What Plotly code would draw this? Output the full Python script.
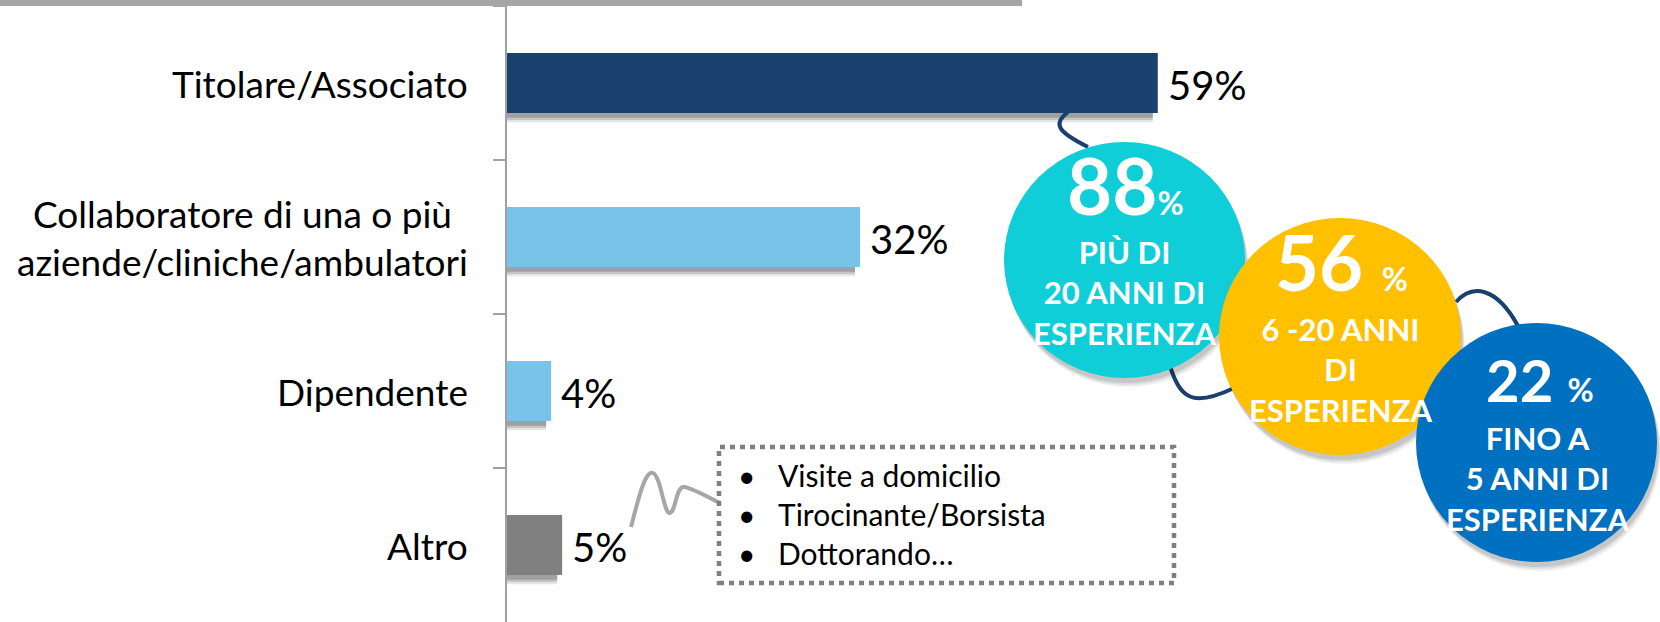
import plotly.graph_objects as go

# ---------------- data ----------------
categories = ["Titolare/Associato",
              "Collaboratore di una o più<br>aziende/cliniche/ambulatori",
              "Dipendente",
              "Altro"]
values = [59, 32, 4, 5]
bar_colors = ["#1A406E", "#79C2E8", "#79C2E8", "#808080"]
value_labels = ["59%", "32%", "4%", "5%"]

bubble_values = ["88", "56", "22"]
bubble_texts = ["PIÙ DI<br>20 ANNI DI<br>ESPERIENZA",
                "6 -20 ANNI<br>DI<br>ESPERIENZA",
                "FINO A<br>5 ANNI DI<br>ESPERIENZA"]
bubble_colors = ["#0FCED8", "#FFC000", "#0070C0"]

altro_items = ["Visite a domicilio", "Tirocinante/Borsista", "Dottorando…"]

# ---------------- layout helpers (pixel -> paper) ----------------
FW, FH = 1660, 622
L, T, R, B = 507, 6, 0, 0
W, H = FW - L - R, FH - T - B


def px(x):
    return (x - L) / W


def py(y):
    return 1 - (y - T) / H


def P(x, y):
    return f"{px(x):.5f},{py(y):.5f}"


FONT = "Lato, 'Open Sans', sans-serif"
BAR_W = 0.39

fig = go.Figure()

# bar shadows (soft, layered)
for off, op in [(0.06, 0.10), (0.045, 0.14), (0.03, 0.18)]:
    fig.add_trace(go.Bar(
        y=categories, x=[v - 0.45 for v in values], orientation="h",
        width=BAR_W, offset=-BAR_W / 2 + off,
        marker=dict(color=f"rgba(0,0,0,{op})", line=dict(width=0)),
        hoverinfo="skip", showlegend=False))

fig.add_trace(go.Bar(
    y=categories, x=values, orientation="h",
    width=BAR_W, offset=-BAR_W / 2,
    marker=dict(color=bar_colors, line=dict(width=0)),
    showlegend=False))

annotations = []
# category labels
for c in categories:
    annotations.append(dict(
        x=px(470), xref="paper", y=c, yref="y", xanchor="right", yanchor="middle",
        text=c, showarrow=False, align="center",
        font=dict(family=FONT, size=37, color="#000000")))
# value labels
for c, v, t in zip(categories, values, value_labels):
    annotations.append(dict(
        x=v, xref="x", y=c, yref="y", xanchor="left", yanchor="middle",
        xshift=8, yshift=-2, text=t, showarrow=False,
        font=dict(family=FONT, size=40, color="#000000")))

shapes = []
# top grey band
shapes.append(dict(type="rect", xref="paper", yref="paper",
                   x0=px(0), x1=px(1022), y0=py(0), y1=py(6),
                   fillcolor="#A6A6A6", line=dict(width=0), layer="above"))

# connectors (navy)
navy = "#1A406E"
c1 = f"M{P(1068,112)} C{P(1052,124)} {P(1058,132)} {P(1088,147)}"
c2 = f"M{P(1170,366)} C{P(1180,398)} {P(1192,408)} {P(1234,388)}"
c3 = f"M{P(1456,302)} C{P(1472,284)} {P(1496,286)} {P(1518,326)}"
for c in (c1, c2, c3):
    shapes.append(dict(type="path", xref="paper", yref="paper", path=c,
                       line=dict(color=navy, width=4)))

# grey squiggle to the box
sq = (f"M{P(631,527)} C{P(638,500)} {P(645,470)} {P(653,473)} "
      f"S{P(664,515)} {P(670,513)} S{P(676,486)} {P(684,487)} "
      f"S{P(706,496)} {P(720,503)}")
shapes.append(dict(type="path", xref="paper", yref="paper", path=sq,
                   line=dict(color="#A6A6A6", width=4)))

# dotted box
shapes.append(dict(type="rect", xref="paper", yref="paper",
                   x0=px(719), x1=px(1174), y0=py(583), y1=py(447),
                   line=dict(color="#7F7F7F", width=4.5, dash="5px,5px"),
                   fillcolor="rgba(0,0,0,0)"))

# bubbles with shadows
bubbles = [(1004, 142, 1245, 378), (1219, 218, 1461, 455), (1416, 323, 1657, 562)]
for (x0, y0, x1, y1), col in zip(bubbles, bubble_colors):
    for d, op in [(9, 0.06), (7, 0.08), (5, 0.10)]:
        shapes.append(dict(type="circle", xref="paper", yref="paper",
                           x0=px(x0 + d * 0.4), x1=px(x1 + d * 0.4),
                           y0=py(y1 + d), y1=py(y0 + d),
                           fillcolor=f"rgba(0,0,0,{op})", line=dict(width=0)))
    shapes.append(dict(type="circle", xref="paper", yref="paper",
                       x0=px(x0), x1=px(x1), y0=py(y1), y1=py(y0),
                       fillcolor=col, line=dict(width=0)))

# bubble texts
num_pos = [(1125, 185, 78, ""), (1341, 261, 76, " "), (1540, 380, 58, " ")]
txt_pos = [(1124, 292), (1340, 369), (1537, 478)]
for val, (nx, ny, ns, sp), txt, (tx, ty) in zip(bubble_values, num_pos, bubble_texts, txt_pos):
    annotations.append(dict(
        x=px(nx), y=py(ny), xref="paper", yref="paper",
        xanchor="center", yanchor="middle", showarrow=False,
        text=f"<b>{val}{sp}<span style='font-size:32px'>%</span></b>",
        font=dict(family=FONT, size=ns, color="#FFFFFF")))
    annotations.append(dict(
        x=px(tx), y=py(ty), xref="paper", yref="paper",
        xanchor="center", yanchor="middle", showarrow=False, align="center",
        text=f"<b>{txt}</b>",
        font=dict(family=FONT, size=31, color="#FFFFFF")))

# box contents
annotations.append(dict(
    x=px(746), y=py(514), xref="paper", yref="paper",
    xanchor="center", yanchor="middle", showarrow=False, align="center",
    text="<br>".join(["•"] * len(altro_items)),
    font=dict(family=FONT, size=30, color="#000000")))
annotations.append(dict(
    x=px(776), y=py(514), xref="paper", yref="paper",
    xanchor="left", yanchor="middle", showarrow=False, align="left",
    text="<br>".join(altro_items),
    font=dict(family=FONT, size=30, color="#000000")))

fig.update_layout(
    width=FW, height=FH,
    margin=dict(l=L, r=R, t=T, b=B, pad=0),
    plot_bgcolor="#FFFFFF", paper_bgcolor="#FFFFFF",
    barmode="overlay", showlegend=False,
    xaxis=dict(range=[0, W / 11.03], visible=False, fixedrange=True),
    yaxis=dict(type="category", categoryorder="array", categoryarray=categories,
               range=[3.5, -0.5], showticklabels=False,
               ticks="outside", tickson="boundaries", ticklen=12,
               tickcolor="#A0A0A0", tickwidth=1.5,
               showline=True, linecolor="#A0A0A0", linewidth=1.5,
               showgrid=False, zeroline=False, fixedrange=True),
    shapes=shapes, annotations=annotations,
    font=dict(family=FONT),
)

fig.write_html("out.html",
               config={"displayModeBar": False, "staticPlot": False},
               post_script="document.body.style.margin='0px';"
                           "document.body.style.overflow='hidden';")
